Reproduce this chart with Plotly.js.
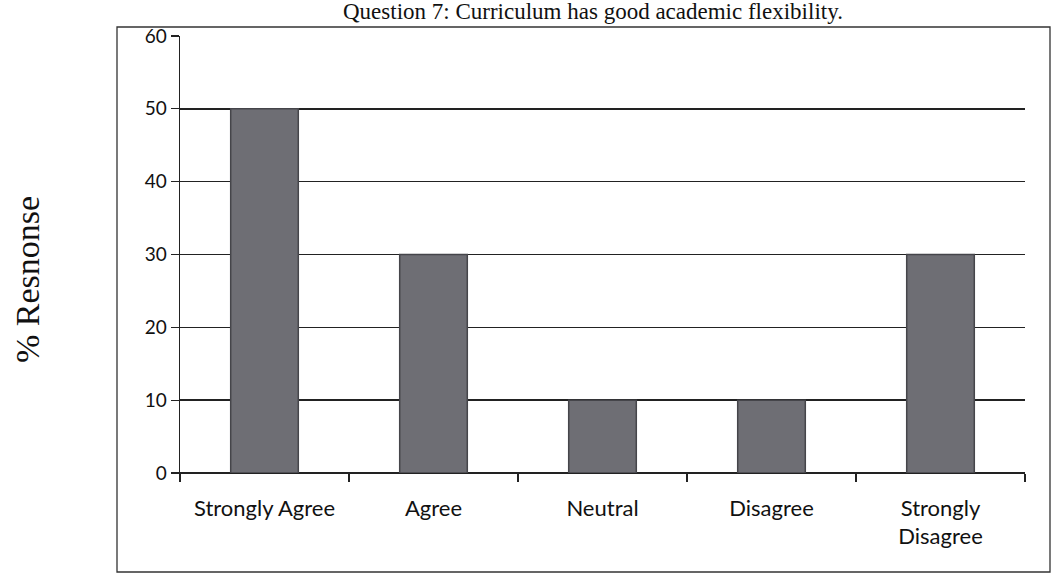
<!DOCTYPE html>
<html>
<head>
<meta charset="utf-8">
<script src="https://cdn.plot.ly/plotly-3.0.1.min.js"></script>
<style>
html,body{margin:0;padding:0;background:#fff;}
#chart{width:1055px;height:588px;}
</style>
</head>
<body>
<div id="chart"></div>
<script>
const categories = ["Strongly Agree", "Agree", "Neutral", "Disagree", "Strongly<br>Disagree"];
const responsePct = [50, 30, 10, 10, 30];
const yTicks = [0, 10, 20, 30, 40, 50, 60];
const chartTitle = "Question 7: Curriculum has good academic flexibility.";
const yTitle = "% Resnonse";

const W = 1055, H = 588;
const L = 180, R = 30, T = 36, B = 115;
const pw = W - L - R, ph = H - T - B;
const px = v => (v - L) / pw;
const py = v => (H - B - v) / ph;

const trace = {
  type: "bar",
  x: categories,
  y: responsePct,
  width: 0.4,
  marker: {color: "#6e6e74", line: {color: "#45454a", width: 1.5}},
  hoverinfo: "x+y"
};

const layout = {
  width: W, height: H,
  margin: {l: L, r: R, t: T, b: B},
  paper_bgcolor: "#ffffff",
  plot_bgcolor: "#ffffff",
  showlegend: false,
  font: {family: "Lato, Open Sans, sans-serif", color: "#111"},
  xaxis: {
    type: "category",
    tickson: "boundaries",
    ticks: "outside",
    ticklen: 8,
    tickcolor: "#222",
    tickwidth: 1.3,
    showline: true,
    linecolor: "#222",
    linewidth: 1.3,
    showgrid: false,
    ticklabelstandoff: 15,
    tickfont: {family: "Lato, Open Sans, sans-serif", size: 22, color: "#111"},
    fixedrange: true
  },
  yaxis: {
    range: [0, 60],
    tickvals: yTicks,
    ticks: "outside",
    ticklen: 8,
    tickcolor: "#222",
    tickwidth: 1.3,
    showline: true,
    linecolor: "#222",
    linewidth: 1.3,
    showgrid: true,
    gridcolor: "#222",
    gridwidth: 1.4,
    zeroline: true,
    zerolinecolor: "#222",
    zerolinewidth: 1.3,
    tickfont: {family: "Lato, Open Sans, sans-serif", size: 19, color: "#111"},
    fixedrange: true
  },
  shapes: [{
    type: "rect", xref: "paper", yref: "paper",
    x0: px(117), x1: px(1050), y0: py(572), y1: py(27),
    line: {color: "#333", width: 1.3}, fillcolor: "rgba(0,0,0,0)", layer: "below"
  }],
  annotations: [
    {
      text: chartTitle, xref: "paper", yref: "paper",
      x: px(593), y: py(26), xanchor: "center", yanchor: "bottom",
      showarrow: false,
      font: {family: "Liberation Serif, Times New Roman, serif", size: 23, color: "#111"}
    },
    {
      text: yTitle, xref: "paper", yref: "paper",
      x: px(27), y: py(280), xanchor: "center", yanchor: "middle",
      textangle: -90, showarrow: false,
      font: {family: "Liberation Serif, Times New Roman, serif", size: 34, color: "#111"}
    }
  ]
};

Plotly.newPlot("chart", [trace], layout, {displayModeBar: false, staticPlot: true});
</script>
</body>
</html>
